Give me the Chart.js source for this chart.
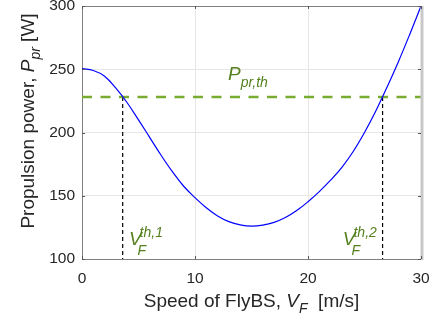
<!DOCTYPE html>
<html>
<head>
<meta charset="utf-8">
<script src="https://cdn.jsdelivr.net/npm/chart.js@4/dist/chart.umd.min.js"></script>
<style>
  html, body { margin: 0; padding: 0; background: #fff; }
  #wrap { width: 435px; height: 322px; }
</style>
</head>
<body>
<div id="wrap"><canvas id="powerChart" width="435" height="322"></canvas></div>
<script>
// Values
const speeds = [0, 1, 2, 3, 4, 5, 6, 7, 8, 9, 10, 11, 12, 13, 14, 15,
                16, 17, 18, 19, 20, 21, 22, 23, 24, 25, 26, 27, 28, 29, 30];   // V_F [m/s]
const power  = [250.5, 249, 244.5, 235, 223.5, 210, 196, 182, 169, 157.5, 148.5,
                140.5, 134, 129.5, 127, 126, 126.8, 129, 132.8, 138.3, 145.3,
                153.3, 162.3, 172.5, 185, 200, 217, 236, 256, 277.5, 300];   // P_pr [W]
const thresholdPower  = 228;            // P_pr,th
const thresholdSpeeds = [3.6, 26.6];    // V_F^th,1 and V_F^th,2
const xTicks = [0, 10, 20, 30];
const yTicks = [100, 150, 200, 250, 300];

const FONT = '"Liberation Sans", Arial, Helvetica, sans-serif';
const TXT = '#262626';
const GREEN_TXT = '#55801e';

// Build the line datasets from the arrays above
const curve = speeds.map((v, i) => ({ x: v, y: power[i] }));
const thLine = [{ x: xTicks[0], y: thresholdPower }, { x: xTicks[xTicks.length - 1], y: thresholdPower }];
const dropLines = thresholdSpeeds.map(v => ({
    data: [{ x: v, y: thresholdPower }, { x: v, y: yTicks[0] }],
    borderColor: '#000000',
    borderWidth: 1.2,
    borderDash: [4, 3],
    pointRadius: 0
}));

// helper: draw a run of text pieces starting at x,y
function drawPieces(ctx, x, y, pieces, color) {
    ctx.fillStyle = color;
    ctx.textBaseline = 'alphabetic';
    ctx.textAlign = 'left';
    let cx = x;
    pieces.forEach(p => {
        ctx.font = p.font;
        ctx.fillText(p.t, cx, y + (p.dy || 0));
        cx += ctx.measureText(p.t).width;
    });
}
function piecesWidth(ctx, pieces) {
    let w = 0;
    pieces.forEach(p => { ctx.font = p.font; w += ctx.measureText(p.t).width; });
    return w;
}

const labelsPlugin = {
    id: 'labelsPlugin',
    afterDraw(chart) {
        const ctx = chart.ctx;
        const xs = chart.scales.x, ys = chart.scales.y;
        const a = chart.chartArea;
        ctx.save();

        // box: top and right edges, inner tick marks
        ctx.strokeStyle = '#808080';
        ctx.lineWidth = 1;
        ctx.beginPath();
        ctx.moveTo(a.left, a.top + 0.5); ctx.lineTo(a.right, a.top + 0.5);
        ctx.stroke();
        ctx.strokeStyle = '#c8c8c8';
        ctx.lineWidth = 3;
        ctx.beginPath();
        ctx.moveTo(a.right + 1, a.top); ctx.lineTo(a.right + 1, a.bottom + 1);
        ctx.stroke();
        ctx.strokeStyle = '#555555';
        ctx.lineWidth = 1;
        ctx.beginPath();
        yTicks.forEach(t => {
            const py = Math.round(ys.getPixelForValue(t)) + 0.5;
            ctx.moveTo(a.left, py); ctx.lineTo(a.left + 3, py);
            ctx.moveTo(a.right, py); ctx.lineTo(a.right - 3, py);
        });
        xTicks.forEach(t => {
            const px = Math.round(xs.getPixelForValue(t)) + 0.5;
            ctx.moveTo(px, a.bottom); ctx.lineTo(px, a.bottom - 3);
            ctx.moveTo(px, a.top); ctx.lineTo(px, a.top + 3);
        });
        ctx.stroke();

        // x axis title
        const it19 = 'italic 19px ' + FONT, n19 = '19px ' + FONT, it14 = 'italic 14px ' + FONT;
        const xt = [
            { t: 'Speed of FlyBS, ', font: n19 },
            { t: 'V', font: it19 },
            { t: 'F', font: it14, dy: 6 },
            { t: '  [m/s]', font: n19 }
        ];
        const xw = piecesWidth(ctx, xt);
        drawPieces(ctx, (a.left + a.right) / 2 - xw / 2, 306.5, xt, TXT);

        // y axis title (rotated)
        const yt = [
            { t: 'Propulsion power, ', font: n19 },
            { t: 'P', font: it19 },
            { t: 'pr', font: it14, dy: 6 },
            { t: ' [W]', font: n19 }
        ];
        const yw = piecesWidth(ctx, yt);
        ctx.save();
        ctx.translate(34, 121);
        ctx.rotate(-Math.PI / 2);
        drawPieces(ctx, -yw / 2, 0, yt, TXT);
        ctx.restore();

        // P_pr,th label
        drawPieces(ctx, xs.getPixelForValue(12.92), ys.getPixelForValue(241.8), [
            { t: 'P', font: it19 },
            { t: 'pr,th', font: it14, dy: 7 }
        ], GREEN_TXT);

        // V_F^th,1 and V_F^th,2 labels
        [[4.15, 'th,1'], [23.08, 'th,2']].forEach(([v, s]) => {
            const px = xs.getPixelForValue(v), py = ys.getPixelForValue(111);
            ctx.font = it19;
            const vw = ctx.measureText('V').width;
            drawPieces(ctx, px, py, [{ t: 'V', font: it19 }], GREEN_TXT);
            drawPieces(ctx, px + vw - 2, py - 8, [{ t: s, font: it14 }], GREEN_TXT);
            drawPieces(ctx, px + vw - 4, py + 10, [{ t: 'F', font: it14 }], GREEN_TXT);
        });

        ctx.restore();
    }
};

const canvas = document.getElementById('powerChart');

new Chart(canvas, {
    type: 'line',
    data: {
        datasets: [
            {
                data: curve,
                borderColor: '#0000ff',
                borderWidth: 1.2,
                pointRadius: 0,
                tension: 0.4
            },
            {
                data: thLine,
                borderColor: '#77ac30',
                borderWidth: 2.5,
                borderDash: [10, 8.5],
                pointRadius: 0
            },
            ...dropLines
        ]
    },
    options: {
        responsive: false,
        animation: false,
        events: [],
        layout: { padding: { left: 0, top: 6, right: 14, bottom: 0 } },
        plugins: {
            legend: { display: false },
            tooltip: { enabled: false }
        },
        scales: {
            x: {
                type: 'linear',
                min: 0,
                max: 30,
                afterBuildTicks: s => { s.ticks = xTicks.map(v => ({ value: v })); },
                afterFit: s => { s.height = 63; s.paddingLeft = 0; s.paddingRight = 0; },
                ticks: {
                    color: TXT,
                    font: { family: FONT, size: 15.5 },
                    padding: 10,
                    maxRotation: 0
                },
                grid: { color: '#e6e6e6', drawTicks: false },
                border: { display: true, color: '#808080', width: 1 }
            },
            y: {
                type: 'linear',
                min: 100,
                max: 300,
                afterBuildTicks: s => { s.ticks = yTicks.map(v => ({ value: v })); },
                afterFit: s => { s.width = 82; s.paddingTop = 0; s.paddingBottom = 0; },
                ticks: {
                    color: TXT,
                    font: { family: FONT, size: 15.5 },
                    padding: 7
                },
                grid: { color: '#e6e6e6', drawTicks: false },
                border: { display: true, color: '#808080', width: 1 }
            }
        }
    },
    plugins: [labelsPlugin]
});
</script>
</body>
</html>
